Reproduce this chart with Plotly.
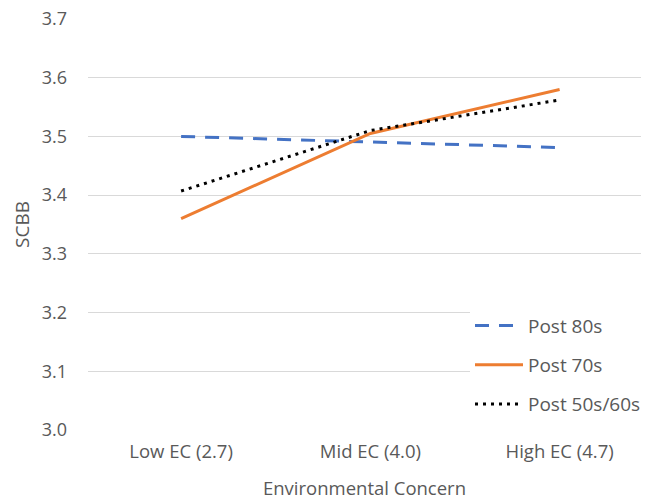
import plotly.graph_objects as go

categories = ["Low EC (2.7)", "Mid EC (4.0)", "High EC (4.7)"]
post_80s = [3.500, 3.490, 3.481]
post_70s = [3.360, 3.505, 3.580]
post_50s_60s = [3.407, 3.510, 3.562]
y_ticks = [3.0, 3.1, 3.2, 3.3, 3.4, 3.5, 3.6, 3.7]
y_tick_labels = ["3.0", "3.1", "3.2", "3.3", "3.4", "3.5", "3.6", "3.7"]

FONT = "Open Sans, Noto Sans, sans-serif"
GREY = "#595959"

fig = go.Figure()
fig.add_trace(go.Scatter(x=categories, y=post_80s, mode="lines", name="Post 80s",
                         legendgroup="a",
                         line=dict(color="#4472C4", width=3, dash="14px,10px")))
fig.add_trace(go.Scatter(x=categories, y=post_70s, mode="lines", name="Post 70s",
                         legendgroup="b",
                         line=dict(color="#ED7D31", width=3)))
fig.add_trace(go.Scatter(x=categories, y=post_50s_60s, mode="lines", name="Post 50s/60s",
                         legendgroup="c",
                         line=dict(color="#000000", width=3, dash="3px,5px")))

fig.update_layout(
    width=646, height=502,
    margin=dict(l=88, r=0, t=19, b=72),
    paper_bgcolor="white", plot_bgcolor="white",
    font=dict(family=FONT, size=18, color=GREY),
    showlegend=True,
    legend=dict(x=0.691, y=0.30, xanchor="left", yanchor="top",
                bgcolor="white", font=dict(size=19, color=GREY),
                tracegroupgap=11.5, itemwidth=48),
    xaxis=dict(type="category", range=[-0.492, 2.43], showgrid=False,
               showline=False, zeroline=False, ticks="", ticklabelstandoff=8,
               title=dict(text="Environmental Concern", standoff=20,
                          font=dict(size=18.5, color=GREY)),
               tickfont=dict(size=18.5, color=GREY)),
    yaxis=dict(range=[3.0, 3.7], tickvals=y_ticks, ticktext=y_tick_labels,
               showgrid=True, gridcolor="#d9d9d9", gridwidth=1,
               zeroline=False, showline=False, ticks="", ticklabelstandoff=20,
               title=dict(text="SCBB", standoff=7, font=dict(size=19, color=GREY)),
               tickfont=dict(size=18, color=GREY)),
)

fig.write_html("out.html", config={"displayModeBar": False},
               post_script="document.body.style.margin='0';document.body.style.overflow='hidden';")
